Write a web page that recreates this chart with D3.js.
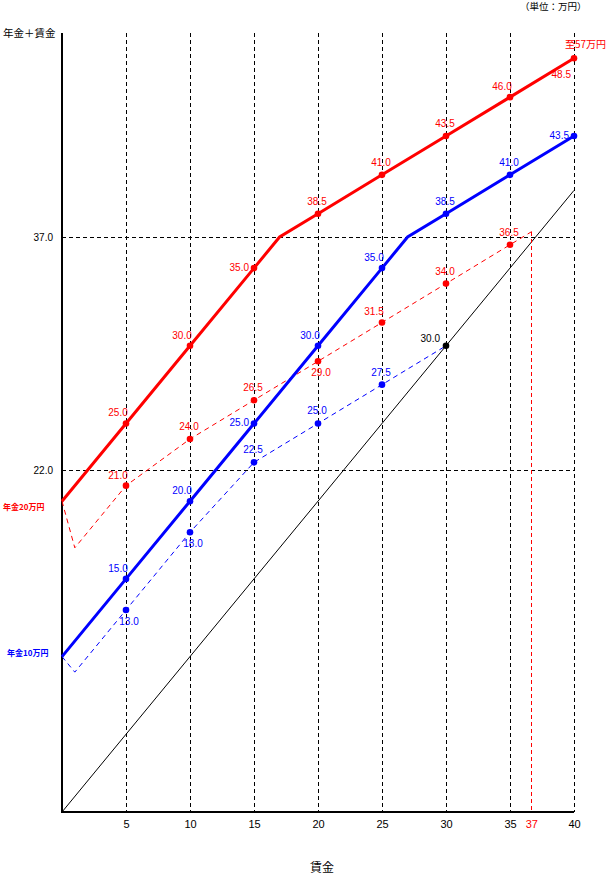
<!DOCTYPE html>
<html>
<head>
<meta charset="utf-8">
<script src="https://cdn.jsdelivr.net/npm/d3@7"></script>
<style>
body { margin: 0; background: #fff; }
text { font-family: 'Liberation Sans', Arial, sans-serif; }
.jp { font-family: 'Noto Sans CJK JP', sans-serif; }
</style>
</head>
<body>
<div class="canvas"></div>
<script>
// データ
const wageTicks = [5, 10, 15, 20, 25, 30, 35, 40];
const gridValues = [22, 37];

// 年金20万円 (実線)
const red20X = [0, 5, 10, 15, 17, 20, 25, 30, 35, 40];
const red20Y = [20, 25, 30, 35, 37, 38.5, 41, 43.5, 46, 48.5];
// 年金10万円 (実線)
const blue10X = [0, 5, 10, 15, 20, 25, 27, 30, 35, 40];
const blue10Y = [10, 15, 20, 25, 30, 35, 37, 38.5, 41, 43.5];
// 点線
const redDashX = [0, 1, 5, 10, 15, 20, 25, 30, 35, 36.7];
const redDashY = [20, 17, 21, 24, 26.5, 29, 31.5, 34, 36.5, 37.35];
const blueDashX = [0, 1, 5, 10, 15, 20, 25, 30];
const blueDashY = [10, 9, 13, 18, 22.5, 25, 27.5, 30];
// 賃金のみ
const wageOnlyX = [0, 40];
const wageOnlyY = [0, 40];
const crossWage = 36.7; // 37

const zip = (xs, ys) => xs.map((x, i) => ({ x: x, y: ys[i] }));

// svg
const svg = d3.select('.canvas')
	.append('svg')
	.attr('width', 611)
	.attr('height', 875);

const margin = { top: 33, left: 62, right: 37, bottom: 63 };
const plotRight = 611 - margin.right;
const plotBottom = 875 - margin.bottom;

const x = d3.scaleLinear().domain([0, 40]).range([margin.left, plotRight]);
const y = d3.scaleLinear().domain([0, 37]).range([plotBottom, 237]);

// グリッド
svg.append('g')
	.selectAll('line')
	.data(wageTicks)
	.enter()
	.append('line')
	.attr('x1', d => x(d)).attr('x2', d => x(d))
	.attr('y1', margin.top).attr('y2', plotBottom)
	.attr('stroke', '#000')
	.attr('shape-rendering', 'crispEdges')
	.attr('stroke-dasharray', '4,3');

svg.append('g')
	.selectAll('line')
	.data(gridValues)
	.enter()
	.append('line')
	.attr('x1', margin.left).attr('x2', plotRight)
	.attr('y1', d => y(d)).attr('y2', d => y(d))
	.attr('stroke', '#000')
	.attr('shape-rendering', 'crispEdges')
	.attr('stroke-dasharray', '4,3');

// 軸
const xAxis = svg.append('g')
	.attr('transform', `translate(0, ${plotBottom})`)
	.call(d3.axisBottom(x).tickValues(wageTicks).tickSize(0).tickPadding(8))
	.call(g => g.select('.domain').remove());
xAxis.selectAll('text').attr('font-size', 11).attr('font-family', 'Liberation Sans, Arial, sans-serif');

const yAxis = svg.append('g')
	.attr('transform', `translate(${margin.left}, 0)`)
	.call(d3.axisLeft(y).tickValues(gridValues).tickSize(0).tickPadding(9).tickFormat(d3.format('.1f')))
	.call(g => g.select('.domain').remove());
yAxis.selectAll('text').attr('font-size', 10).attr('font-family', 'Liberation Sans, Arial, sans-serif');

svg.append('line')
	.attr('x1', margin.left).attr('x2', margin.left)
	.attr('y1', margin.top).attr('y2', plotBottom + 1)
	.attr('stroke', '#000').attr('stroke-width', 2)
	.attr('shape-rendering', 'crispEdges');
svg.append('line')
	.attr('x1', margin.left).attr('x2', plotRight)
	.attr('y1', plotBottom).attr('y2', plotBottom)
	.attr('stroke', '#000').attr('stroke-width', 2)
	.attr('shape-rendering', 'crispEdges');

// 線
const line = d3.line().x(d => x(d.x)).y(d => y(d.y));

const drawLine = (data, colour, width, dash) => {
	svg.append('path')
		.datum(data)
		.attr('d', line)
		.attr('fill', 'none')
		.attr('stroke', colour)
		.attr('stroke-width', width)
		.attr('stroke-dasharray', dash);
};

drawLine(zip(wageOnlyX, wageOnlyY), '#000', 1, null);
drawLine(zip(redDashX, redDashY), '#ff0000', 1, '5,4');
drawLine(zip(blueDashX, blueDashY), '#0000ff', 1, '5,4');
drawLine(zip(red20X, red20Y), '#ff0000', 3, null);
drawLine(zip(blue10X, blue10Y), '#0000ff', 3, null);

// 37 の縦線
const crossY = redDashY[redDashY.length - 1];
svg.append('line')
	.attr('x1', x(crossWage)).attr('x2', x(crossWage))
	.attr('y1', y(crossY)).attr('y2', plotBottom)
	.attr('stroke', '#ff0000')
	.attr('shape-rendering', 'crispEdges')
	.attr('stroke-dasharray', '4,3');
svg.append('text')
	.attr('x', x(crossWage))
	.attr('y', plotBottom + 16)
	.attr('text-anchor', 'middle')
	.attr('font-size', 11)
	.attr('fill', '#ff0000')
	.text('37');

// 点とラベル
const place = {
	u: { anchor: 'middle', dx: -1, dy: -9 },
	ul: { anchor: 'middle', dx: -8, dy: -7 },
	l: { anchor: 'end', dx: -5, dy: 3 },
	lu: { anchor: 'end', dx: -6, dy: -4 },
	d: { anchor: 'middle', dx: 3, dy: 15 },
	dl: { anchor: 'end', dx: -3, dy: 20 }
};

const red20Pos = ['ul', 'ul', 'l', 'u', 'u', 'u', 'ul', 'dl'];
const blue10Pos = ['ul', 'ul', 'l', 'ul', 'ul', 'u', 'u', 'l'];
const redDashPos = ['ul', 'u', 'u', 'd', 'ul', 'u', 'u'];
const blueDashPos = ['d', 'd', 'u', 'u', 'u', 'lu'];

const drawMarks = (data, colour, pos) => {
	const pts = data.filter(d => wageTicks.includes(d.x));
	const g = svg.append('g');
	g.selectAll('circle')
		.data(pts)
		.enter()
		.append('circle')
		.attr('cx', d => x(d.x))
		.attr('cy', d => y(d.y))
		.attr('r', 3.3)
		.attr('fill', d => d.x === d.y ? '#000' : colour);
	g.selectAll('text')
		.data(pts)
		.enter()
		.append('text')
		.attr('x', (d, i) => x(d.x) + place[pos[i]].dx)
		.attr('y', (d, i) => y(d.y) + place[pos[i]].dy)
		.attr('text-anchor', (d, i) => place[pos[i]].anchor)
		.attr('font-size', 10)
		.attr('fill', d => d.x === d.y ? '#000' : colour)
		.text(d => d3.format('.1f')(d.y));
};

drawMarks(zip(red20X, red20Y), '#ff0000', red20Pos);
drawMarks(zip(blue10X, blue10Y), '#0000ff', blue10Pos);
drawMarks(zip(redDashX, redDashY), '#ff0000', redDashPos);
drawMarks(zip(blueDashX, blueDashY), '#0000ff', blueDashPos);

// 文字
svg.append('text')
	.attr('class', 'jp')
	.attr('x', x(40) - 9)
	.attr('y', y(red20Y[red20Y.length - 1]) - 10)
	.attr('font-size', 10)
	.attr('fill', '#ff0000')
	.text('至57万円');

svg.append('text')
	.attr('class', 'jp')
	.attr('x', 3)
	.attr('y', y(red20Y[0]) + 9)
	.attr('font-size', 8)
	.attr('font-weight', 'bold')
	.attr('fill', '#ff0000')
	.text('年金20万円');

svg.append('text')
	.attr('class', 'jp')
	.attr('x', 7)
	.attr('y', y(blue10Y[0]) - 1)
	.attr('font-size', 8)
	.attr('font-weight', 'bold')
	.attr('fill', '#0000ff')
	.text('年金10万円');

svg.append('text')
	.attr('class', 'jp')
	.attr('x', 3)
	.attr('y', 37)
	.attr('font-size', 10.5)
	.text('年金＋賃金');

svg.append('text')
	.attr('class', 'jp')
	.attr('x', 520)
	.attr('y', 10)
	.attr('font-size', 9.5)
	.text('（単位：万円）');

svg.append('text')
	.attr('class', 'jp')
	.attr('x', 310)
	.attr('y', 872)
	.attr('font-size', 12)
	.text('賃金');
</script>
</body>
</html>
